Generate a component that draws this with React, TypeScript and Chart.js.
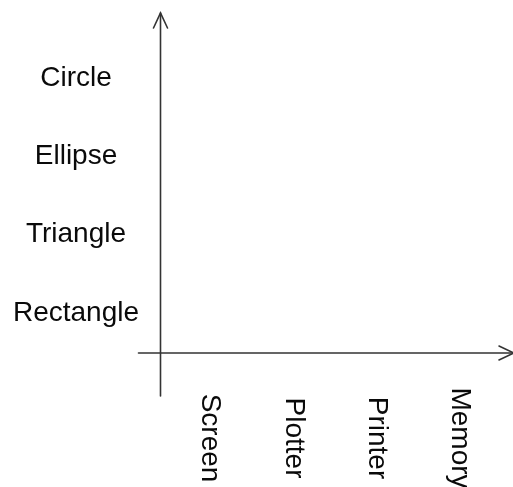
import React, { useEffect, useRef } from "react";
import { Chart, registerables } from "chart.js";

Chart.register(...registerables);

// Categories along each axis (no data marks in the reference diagram)
const xCategories: string[] = ["Screen", "Plotter", "Printer", "Memory"];
const yCategories: string[] = ["Rectangle", "Triangle", "Ellipse", "Circle"];

const FONT = '28px "Liberation Sans", Arial, Helvetica, sans-serif';
const TEXT_COLOR = "#0a0a0a";
const AXIS_COLOR = "#333333";

function arrowHead(
  ctx: CanvasRenderingContext2D,
  tipX: number,
  tipY: number,
  dirX: number,
  dirY: number
) {
  const len = 15;
  const half = 7;
  const px = -dirY;
  const py = dirX;
  ctx.beginPath();
  ctx.moveTo(tipX - dirX * len + px * half, tipY - dirY * len + py * half);
  ctx.lineTo(tipX, tipY);
  ctx.lineTo(tipX - dirX * len - px * half, tipY - dirY * len - py * half);
  ctx.stroke();
}

const diagramPlugin = {
  id: "diagram",
  afterDraw(chart: any) {
    const ctx: CanvasRenderingContext2D = chart.ctx;
    const { left, top, bottom } = chart.chartArea;
    const xs = chart.scales.x;
    const ys = chart.scales.y;
    const W = chart.width;
    ctx.save();
    // axes
    ctx.strokeStyle = AXIS_COLOR;
    ctx.fillStyle = AXIS_COLOR;
    ctx.lineWidth = 1.6;
    ctx.lineCap = "round";
    ctx.lineJoin = "miter";
    ctx.beginPath();
    ctx.moveTo(left, bottom + 43);
    ctx.lineTo(left, top - 7);
    ctx.stroke();
    arrowHead(ctx, left, top - 7, 0, -1);
    ctx.beginPath();
    ctx.moveTo(left - 22, bottom);
    ctx.lineTo(W + 2, bottom);
    ctx.stroke();
    arrowHead(ctx, W + 1, bottom, 1, 0);

    // y labels
    ctx.font = FONT;
    ctx.fillStyle = TEXT_COLOR;
    ctx.textAlign = "center";
    ctx.textBaseline = "middle";
    yCategories.forEach((lab, i) => {
      const py = ys.getPixelForValue(i);
      ctx.fillText(lab, 76, py);
    });
    // x labels rotated clockwise
    xCategories.forEach((lab, i) => {
      const px = xs.getPixelForValue(i);
      ctx.save();
      ctx.translate(px, bottom + 85);
      ctx.rotate(Math.PI / 2);
      ctx.textAlign = "center";
      ctx.textBaseline = "middle";
      ctx.fillText(lab, 0, 0);
      ctx.restore();
    });
    ctx.restore();
  },
};

export default function App() {
  const ref = useRef<HTMLCanvasElement | null>(null);
  useEffect(() => {
    document.body.style.margin = "0";
    const canvas = ref.current;
    if (!canvas) return;
    const chart = new Chart(canvas, {
      type: "scatter",
      data: { datasets: [{ data: [] }] },
      options: {
        animation: false,
        responsive: false,
        devicePixelRatio: 1,
        layout: { padding: { left: 160.5, top: 20, right: 13, bottom: 134 } },
        plugins: { legend: { display: false }, tooltip: { enabled: false } },
        scales: {
          x: { type: "linear", display: false, min: -0.5942, max: 3.4814 },
          y: { type: "linear", display: false, min: -0.5109, max: 3.7420 },
        },
      },
      plugins: [diagramPlugin],
    });
    return () => chart.destroy();
  }, []);
  return (
    <div style={{ width: 513, height: 487, background: "#fff" }}>
      <canvas ref={ref} width={513} height={487} />
    </div>
  );
}
